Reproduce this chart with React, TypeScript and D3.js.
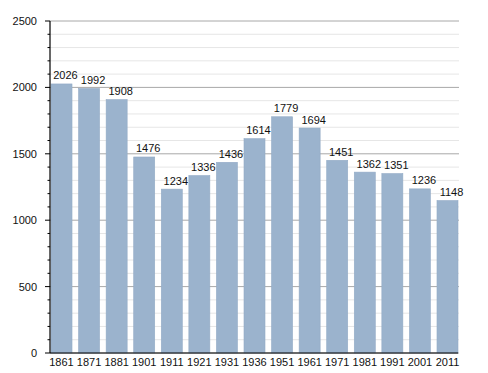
import React from "react";
import * as d3 from "d3";

const years = ["1861","1871","1881","1901","1911","1921","1931","1936","1951","1961","1971","1981","1991","2001","2011"];
const population = [2026,1992,1908,1476,1234,1336,1436,1614,1779,1694,1451,1362,1351,1236,1148];
const majorTicks = [0,500,1000,1500,2000,2500];
const minorTicks = d3.range(0, 2501, 100);

export default function App() {
  const W = 488, H = 373;
  const left = 50, right = 458, top = 21, bottom = 353;
  const y = d3.scaleLinear().domain([0, 2500]).range([bottom, top]);
  const x = d3.scaleBand<string>().domain(years).range([51, 458]).paddingInner(0.238).paddingOuter(0);
  const font = "Liberation Sans, Arial, sans-serif";
  return (
    <svg width={W} height={H} style={{ position: "absolute", left: 0, top: 0, background: "#fff" }} fontFamily={font}>
      {minorTicks.filter(t => t % 500 !== 0).map(t => (
        <line key={"mg" + t} x1={left} x2={right + 1} y1={y(t)} y2={y(t)} stroke="#e6e6e6" strokeWidth={1} />
      ))}
      {majorTicks.map(t => (
        <line key={"Mg" + t} x1={left} x2={right + 1} y1={y(t)} y2={y(t)} stroke="#a8a8a8" strokeWidth={1} />
      ))}
      {population.map((v, i) => (
        <rect key={"b" + i} x={x(years[i])!} y={y(v)} width={x.bandwidth()} height={bottom - y(v)}
          fill="#9bb3cd" stroke="#93abc6" strokeWidth={0.6} />
      ))}
      {population.map((v, i) => (
        <text key={"l" + i} x={x(years[i])! + x.bandwidth() / 2 + 4} y={y(v) - 4.5} textAnchor="middle" fontSize={11} fill="#111">{v}</text>
      ))}
      {minorTicks.map(t => (
        <line key={"t" + t} x1={t % 500 === 0 ? left - 5 : left - 2.5} x2={left} y1={y(t)} y2={y(t)} stroke="#000" strokeWidth={1} />
      ))}
      {majorTicks.map(t => (
        <text key={"yl" + t} x={37} y={y(t) + 4} textAnchor="end" fontSize={11} fill="#111">{t}</text>
      ))}
      <line x1={left} x2={left} y1={top} y2={bottom} stroke="#000" strokeWidth={1.2} />
      <line x1={left} x2={right} y1={bottom} y2={bottom} stroke="#000" strokeWidth={1.2} />
      {years.map(yr => (
        <text key={"xl" + yr} x={x(yr)! + x.bandwidth() / 2} y={366} textAnchor="middle" fontSize={11} fill="#111">{yr}</text>
      ))}
    </svg>
  );
}
